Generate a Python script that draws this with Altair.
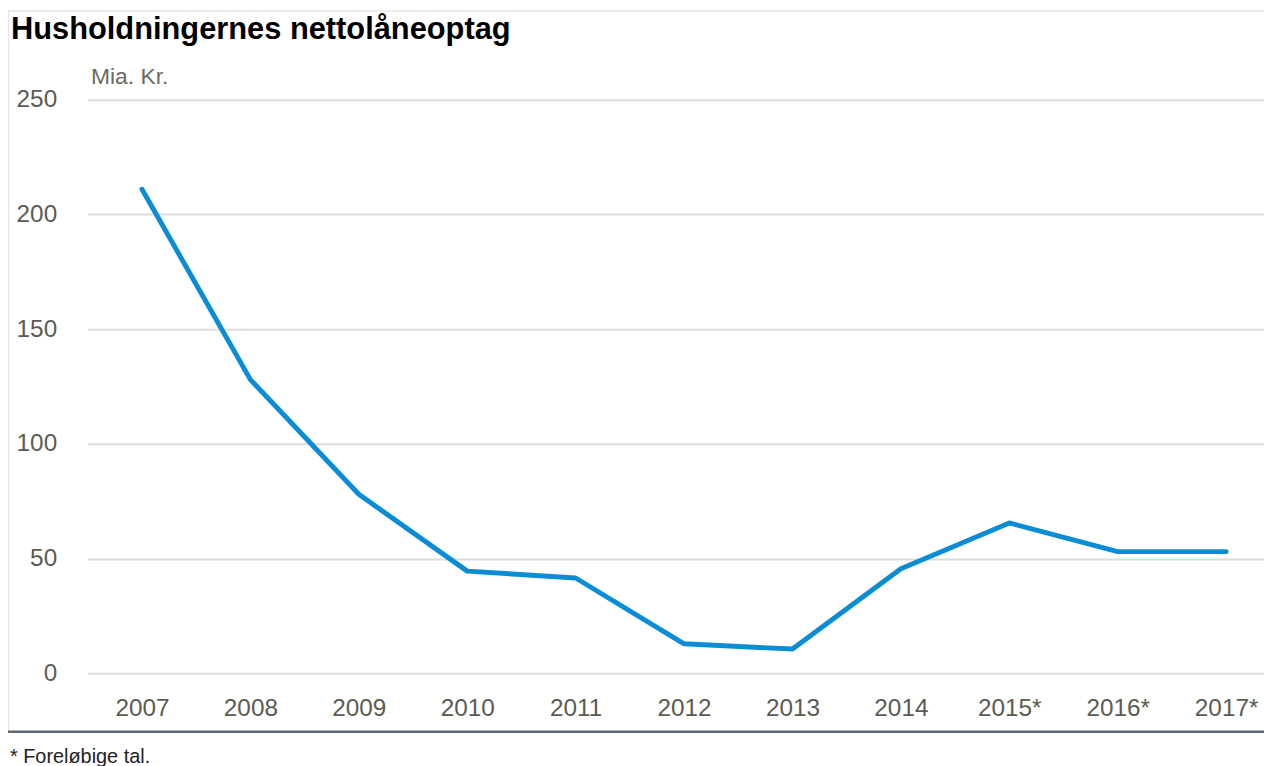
import altair as alt
import pandas as pd

years = ["2007", "2008", "2009", "2010", "2011", "2012", "2013", "2014", "2015*", "2016*", "2017*"]
values = [211, 128, 78, 44.5, 41.5, 12.8, 10.5, 45.5, 65.5, 53, 53]
y_ticks = [0, 50, 100, 150, 200, 250]

title_text = "Husholdningernes nettolåneoptag"
unit_text = "Mia. Kr."
note_text = "* Foreløbige tal."

df = pd.DataFrame({"year": years, "value": values})

W = 1184
H = 577
NARROW = "Liberation Sans Narrow, Arial Narrow, Liberation Sans, Arial, sans-serif"
SANS = "Liberation Sans, Arial, Helvetica, sans-serif"

base = alt.Chart(df)

line = base.mark_line(color="#0b8dd6", strokeWidth=5, strokeCap="round", strokeJoin="round").encode(
    x=alt.X("year:N", sort=years,
            scale=alt.Scale(type="point", padding=0.426, align=0.59),
            axis=alt.Axis(title=None, labelAngle=0, ticks=False, tickSize=0, domain=False,
                          grid=False, labelPadding=43, labelBaseline="alphabetic",
                          labelFont=NARROW, labelFontSize=24.5, labelColor="#5b5b52")),
    y=alt.Y("value:Q",
            scale=alt.Scale(domain=[0, 250], nice=False, zero=True),
            axis=alt.Axis(values=y_ticks, title=unit_text, titleAngle=0, titleX=3, titleY=-16,
                          titleAlign="left", titleBaseline="alphabetic", titleFont=NARROW,
                          titleFontSize=23, titleFontWeight="normal", titleColor="#6b6b62",
                          ticks=False, tickSize=0, domain=False, labelPadding=31,
                          labelFont=NARROW, labelFontSize=24.5, labelColor="#5b5b52",
                          grid=True, gridColor="#deded8", gridWidth=2)),
)

title = alt.Chart(pd.DataFrame({"t": [title_text]})).mark_text(
    align="left", baseline="alphabetic", font=SANS, fontSize=31, fontWeight="bold", color="#000000"
).encode(text="t:N", x=alt.value(-77), y=alt.value(-61))

note = alt.Chart(pd.DataFrame({"t": [note_text]})).mark_text(
    align="left", baseline="alphabetic", font=SANS, fontSize=20, color="#222222"
).encode(text="t:N", x=alt.value(-78), y=alt.value(667))

bottom_rule = alt.Chart(pd.DataFrame({"a": [0]})).mark_rule(color="#5d6870", strokeWidth=2.5).encode(
    x=alt.value(-80), x2=alt.value(W), y=alt.value(636))

frame_left = alt.Chart(pd.DataFrame({"a": [0]})).mark_rule(color="#e6e6e6", strokeWidth=1.5).encode(
    x=alt.value(-79.5), y=alt.value(-89), y2=alt.value(635))
frame_top = alt.Chart(pd.DataFrame({"a": [0]})).mark_rule(color="#e6e6e6", strokeWidth=1.5).encode(
    x=alt.value(-80), x2=alt.value(W), y=alt.value(-89.5))

chart = alt.layer(frame_left, frame_top, line, bottom_rule, title, note).properties(
    width=W, height=H,
    background="white",
    padding={"left": 80, "top": 90, "right": 0, "bottom": 91},
    autosize=alt.AutoSizeParams(type="none"),
).configure_view(stroke="transparent", strokeWidth=0)

chart.save("out.html", embed_options={"renderer": "svg", "actions": False})
